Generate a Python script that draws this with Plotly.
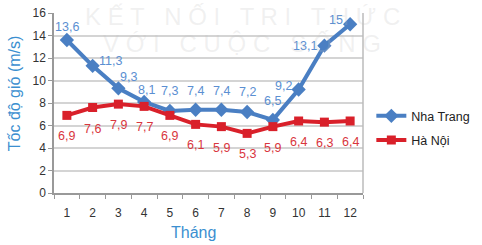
import plotly.graph_objects as go

months = list(range(1, 13))
nha_trang = [13.6, 11.3, 9.3, 8.1, 7.3, 7.4, 7.4, 7.2, 6.5, 9.2, 13.1, 15]
ha_noi = [6.9, 7.6, 7.9, 7.7, 6.9, 6.1, 5.9, 5.3, 5.9, 6.4, 6.3, 6.4]
y_ticks = [0, 2, 4, 6, 8, 10, 12, 14, 16]

def fmt(v):
    return ("%g" % v).replace(".", ",")

# label pixel offsets (style only)
nt_dx = [0, 18, 10, 2, 0, 0, 0, 0, 0, -15, -19, -14]
nt_dy = [-13, -5, -11, -12, -20, -19, -19, -20, -19, -4, 0, -4]
hn_dy = 21

BLUE = "#4a7fc3"
RED = "#d9202a"
TITLE = "#3b8fd0"
FONT = "Liberation Sans, Arial, sans-serif"

fig = go.Figure()
fig.add_trace(go.Scatter(
    x=months, y=nha_trang, name="Nha Trang", mode="lines+markers", legendgroup="a",
    line=dict(color=BLUE, width=4), marker=dict(symbol="diamond", size=11, color=BLUE)))
fig.add_trace(go.Scatter(
    x=months, y=ha_noi, name="Hà Nội", mode="lines+markers", legendgroup="b",
    line=dict(color=RED, width=4), marker=dict(symbol="square", size=9, color=RED)))

annotations = []
for i, (m, v) in enumerate(zip(months, nha_trang)):
    annotations.append(dict(x=m, y=v, text=fmt(v), showarrow=False,
                            xshift=nt_dx[i], yshift=-nt_dy[i],
                            font=dict(size=12.5, color="#5b8fd2", family=FONT)))
for i, (m, v) in enumerate(zip(months, ha_noi)):
    annotations.append(dict(x=m, y=v, text=fmt(v), showarrow=False,
                            xshift=0, yshift=-hn_dy,
                            font=dict(size=12.5, color="#d9363e", family=FONT)))

wm = "rgba(190,190,190,0.22)"
annotations += [
    dict(text="K Ế T   N Ố I   T R I   T H Ứ C", xref="paper", yref="paper",
         x=0.61, y=1.067, yanchor="top", showarrow=False,
         font=dict(size=24, color=wm, family=FONT)),
    dict(text="V Ớ I   C U Ộ C   S Ố N G", xref="paper", yref="paper",
         x=0.61, y=0.83, yanchor="middle", showarrow=False,
         font=dict(size=24, color=wm, family=FONT)),
    # axis titles
    dict(text="Tốc độ gió (m/s)", xref="paper", yref="paper", x=-0.129, y=0.555,
         textangle=-90, xanchor="center", yanchor="middle", showarrow=False,
         font=dict(size=16, color=TITLE, family=FONT)),
    dict(text="Tháng", xref="paper", yref="paper", x=0.453, y=-0.222,
         xanchor="center", yanchor="middle", showarrow=False,
         font=dict(size=16, color=TITLE, family=FONT)),
]

boundaries = [m - 0.5 for m in months] + [months[-1] + 0.5]

fig.update_layout(
    width=482, height=245, margin=dict(l=54, r=119, t=13, b=52, autoexpand=False),
    paper_bgcolor="white", plot_bgcolor="white",
    font=dict(family=FONT, size=12, color="#333333"),
    showlegend=True,
    legend=dict(x=1.027, y=0.36, xanchor="left", yanchor="middle",
                font=dict(size=12.5, color="#222222", family=FONT),
                tracegroupgap=5, itemwidth=30, bgcolor="rgba(0,0,0,0)"),
    xaxis=dict(range=[boundaries[0], boundaries[-1]], tickmode="array", tickvals=months,
               ticktext=[str(m) for m in months], tickangle=0, showgrid=False,
               automargin=False,
               showline=True, linecolor="#999999", linewidth=1.5,
               ticks="outside", ticklen=0, tickcolor="rgba(0,0,0,0)", ticklabelstandoff=8,
               minor=dict(tickmode="array", tickvals=boundaries, ticks="outside",
                          ticklen=4, tickcolor="#999999", showgrid=False),
               tickfont=dict(size=12, color="#333333"), zeroline=False),
    yaxis=dict(range=[0, 16], tickmode="array", tickvals=y_ticks, automargin=False,
               showgrid=True, gridcolor="#d4d4d4", gridwidth=1.5,
               showline=True, linecolor="#999999", linewidth=1.5,
               ticks="outside", ticklen=4, tickcolor="#999999",
               tickfont=dict(size=12, color="#333333"), zeroline=False),
    shapes=[dict(type="line", xref="paper", yref="paper", x0=1, x1=1, y0=0, y1=1,
                 line=dict(color="#bbbbbb", width=1.5))],
    annotations=annotations,
)

fig.write_html("out.html")
